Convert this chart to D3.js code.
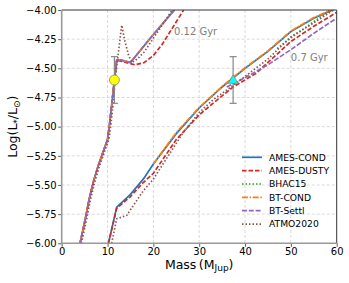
<!DOCTYPE html>
<html>
<head>
<meta charset="utf-8">
<script src="https://cdn.jsdelivr.net/npm/d3@7"></script>
<style>
  body { margin: 0; background: #fff; }
  text { font-family: "DejaVu Sans", sans-serif; }
</style>
</head>
<body>
<script>
var w = 349
var h = 283

// ---- data (mass in MJup, log L/Lsun) ----
var modelNames = ["AMES-COND", "AMES-DUSTY", "BHAC15", "BT-COND", "BT-Settl", "ATMO2020"]

// 0.12 Gyr isochrones
var condMass012 = [4, 5, 6, 7, 8, 9, 10, 10.5, 11, 11.5, 12, 13, 15, 20, 24.6]
var condLum012  = [-6.0, -5.82, -5.62, -5.46, -5.33, -5.22, -5.11, -4.96, -4.78, -4.60, -4.43, -4.43, -4.45, -4.21, -4.0]
var dustyMass012 = [4, 5, 6, 7, 8, 9, 10, 10.5, 11, 11.5, 12, 14, 16, 18, 20, 22, 26.6]
var dustyLum012  = [-6.0, -5.82, -5.62, -5.46, -5.33, -5.22, -5.11, -4.96, -4.78, -4.60, -4.43, -4.45, -4.47, -4.45, -4.39, -4.29, -4.0]
var atmoMass012 = [4.3, 5.3, 6.3, 7.3, 8.3, 9.3, 10.3, 10.8, 11.3, 11.7, 12.2, 13.1, 13.8, 14.6, 15.3, 16.5, 18, 24.1]
var atmoLum012  = [-6.0, -5.82, -5.62, -5.46, -5.33, -5.22, -5.11, -4.96, -4.78, -4.58, -4.42, -4.13, -4.27, -4.39, -4.45, -4.42, -4.36, -4.0]

// 0.7 Gyr isochrones
var condMass07 = [10.2, 12, 15, 17.8, 20, 25, 30, 35, 40, 45, 50, 55, 60]
var condLum07  = [-6.0, -5.69, -5.58, -5.45, -5.32, -5.06, -4.84, -4.66, -4.50, -4.355, -4.185, -4.07, -3.985]
var btcondMass07 = [20, 25, 30, 35, 40, 45, 50, 55, 60]
var btcondLum07  = [-5.32, -5.05, -4.835, -4.655, -4.495, -4.35, -4.18, -4.065, -3.98]
var dustyMass07 = [10.2, 12, 15, 17.5, 20, 25, 30, 33, 37.4, 42.5, 45, 50, 55, 60]
var dustyLum07  = [-6.0, -5.70, -5.60, -5.49, -5.40, -5.11, -4.90, -4.80, -4.66, -4.54, -4.45, -4.27, -4.14, -4.02]
var settlMass07 = [36, 40, 45, 50, 55, 60]
var settlLum07  = [-4.66, -4.58, -4.47, -4.34, -4.20, -4.07]
var bhacMass07 = [47, 50, 55, 58.6]
var bhacLum07  = [-4.33, -4.24, -4.10, -4.0]
var atmoMass07 = [10.9, 12, 14.2, 17.8, 20, 26.5, 30, 33, 38, 45, 50, 55, 59.3]
var atmoLum07  = [-6.0, -5.79, -5.76, -5.55, -5.45, -5.05, -4.88, -4.77, -4.63, -4.42, -4.23, -4.11, -4.0]

// companion estimates
var objMass = [11.5, 37.4]
var objLum = [-4.6, -4.6]
var objErr = [0.2, 0.2]

var xTicks = [0, 10, 20, 30, 40, 50, 60]
var yTicks = [-6.0, -5.75, -5.5, -5.25, -5.0, -4.75, -4.5, -4.25, -4.0]

var colors = {
  "AMES-COND": "#1f77b4", "AMES-DUSTY": "#d62728", "BHAC15": "#2ca02c",
  "BT-COND": "#ff7f0e", "BT-Settl": "#9467bd", "ATMO2020": "#8c564b"
}
var dashes = {
  "AMES-COND": null, "AMES-DUSTY": "4.5,2", "BHAC15": "1.5,2",
  "BT-COND": "6,1.6,1.5,1.6", "BT-Settl": "5,1.8", "ATMO2020": "1.5,2"
}

// curves in draw order
var curves = [
  {model: "AMES-COND", m: condMass012, l: condLum012},
  {model: "AMES-COND", m: condMass07, l: condLum07},
  {model: "AMES-DUSTY", m: dustyMass012, l: dustyLum012},
  {model: "AMES-DUSTY", m: dustyMass07, l: dustyLum07},
  {model: "BHAC15", m: bhacMass07, l: bhacLum07},
  {model: "BT-COND", m: condMass012, l: condLum012},
  {model: "BT-COND", m: btcondMass07, l: btcondLum07},
  {model: "BT-Settl", m: condMass012, l: condLum012},
  {model: "BT-Settl", m: settlMass07, l: settlLum07},
  {model: "ATMO2020", m: atmoMass012, l: atmoLum012},
  {model: "ATMO2020", m: atmoMass07, l: atmoLum07}
]

// plot box (window.top is reserved, so use pl/pr/pt/pb)
var pl = 61.7, pr = 336.7, pt = 10, pb = 243.3

var x = d3.scaleLinear().domain([0, 60]).range([pl, pr])
var y = d3.scaleLinear().domain([-6, -4]).range([pb, pt])

var svg = d3.select("body").append("svg")
            .attr("width", w)
            .attr("height", h)

svg.append("defs").append("clipPath").attr("id", "clip")
   .append("rect")
   .attr("x", pl).attr("y", pt)
   .attr("width", pr - pl).attr("height", pb - pt)

var minus = function(s) { return s.replace("-", "\u2212") }

// grid
svg.append("g").selectAll("line")
   .data(xTicks.slice(1, -1))
   .enter().append("line")
   .attr("x1", function(d) { return x(d) }).attr("x2", function(d) { return x(d) })
   .attr("y1", pt).attr("y2", pb)
   .attr("stroke", "#d0d0d0").attr("stroke-width", 0.8)
   .attr("stroke-dasharray", "3,2")

svg.append("g").selectAll("line")
   .data(yTicks.slice(1, -1))
   .enter().append("line")
   .attr("y1", function(d) { return y(d) }).attr("y2", function(d) { return y(d) })
   .attr("x1", pl).attr("x2", pr)
   .attr("stroke", "#d0d0d0").attr("stroke-width", 0.8)
   .attr("stroke-dasharray", "3,2")

// axes
var xAxis = svg.append("g")
   .attr("transform", "translate(0," + pb + ")")
   .call(d3.axisBottom(x).tickValues(xTicks).tickSize(3.5).tickPadding(1))
var yAxis = svg.append("g")
   .attr("transform", "translate(" + pl + ",0)")
   .call(d3.axisLeft(y).tickValues(yTicks).tickSize(3.5).tickPadding(1.5)
     .tickFormat(function(d) { return minus(d3.format(".2f")(d)) }))

;[xAxis, yAxis].forEach(function(a) {
  a.select(".domain").remove()
  a.selectAll("text").attr("font-size", "10px").attr("fill", "#000")
    .style("font-family", "DejaVu Sans")
  a.selectAll(".tick line").attr("stroke", "#333").attr("stroke-width", 0.8)
})

// curves
var line = d3.line()
  .x(function(d) { return x(d[0]) })
  .y(function(d) { return y(d[1]) })

var plot = svg.append("g").attr("clip-path", "url(#clip)")

plot.selectAll("path.curve")
  .data(curves)
  .enter().append("path")
  .attr("class", "curve")
  .attr("d", function(c) { return line(d3.zip(c.m, c.l)) })
  .attr("fill", "none")
  .attr("stroke", function(c) { return colors[c.model] })
  .attr("stroke-width", 1.7)
  .attr("stroke-dasharray", function(c) { return dashes[c.model] })

// error bars
var eb = svg.append("g")
objMass.forEach(function(m, i) {
  var cx = x(m)
  var y1 = y(objLum[i] + objErr[i]), y2 = y(objLum[i] - objErr[i])
  eb.append("line").attr("x1", cx).attr("x2", cx).attr("y1", y1).attr("y2", y2)
    .attr("stroke", "#888").attr("stroke-width", 1.2)
  ;[y1, y2].forEach(function(yy) {
    eb.append("line").attr("x1", cx - 3.5).attr("x2", cx + 3.5).attr("y1", yy).attr("y2", yy)
      .attr("stroke", "#888").attr("stroke-width", 1.2)
  })
})

svg.append("circle")
  .attr("cx", x(objMass[0])).attr("cy", y(objLum[0])).attr("r", 5)
  .attr("fill", "#ffff00").attr("stroke", "#888").attr("stroke-width", 0.8)

svg.append("path")
  .attr("d", d3.symbol().type(d3.symbolTriangle).size(42)())
  .attr("transform", "translate(" + x(objMass[1]) + "," + (y(objLum[1]) + 0.5) + ")")
  .attr("fill", "#00ffff").attr("stroke", "#888").attr("stroke-width", 0.8)

// spines
svg.append("line").attr("x1", pl).attr("x2", pr).attr("y1", pt).attr("y2", pt)
  .attr("stroke", "#333").attr("stroke-width", 1)
svg.append("line").attr("x1", pr).attr("x2", pr).attr("y1", pt).attr("y2", pb)
  .attr("stroke", "#333").attr("stroke-width", 1)
svg.append("line").attr("x1", pl).attr("x2", pl).attr("y1", pt).attr("y2", pb + 0.5)
  .attr("stroke", "#9a9a9a").attr("stroke-width", 1.6)
svg.append("line").attr("x1", pl - 0.8).attr("x2", pr).attr("y1", pb).attr("y2", pb)
  .attr("stroke", "#9a9a9a").attr("stroke-width", 1.6)

// age labels
svg.append("text").text("0.12 Gyr")
  .attr("x", x(24.5)).attr("y", y(-4.18) + 3.6)
  .attr("font-size", "10px").attr("fill", "#808080")
svg.append("text").text("0.7 Gyr")
  .attr("x", x(50)).attr("y", y(-4.41) + 3.6)
  .attr("font-size", "10px").attr("fill", "#808080")

// legend
var leg = svg.append("g").attr("transform", "translate(242,157.3)")
var rows = leg.selectAll("g").data(modelNames).enter().append("g")
  .attr("transform", function(d, i) { return "translate(0," + (i * 13.35) + ")" })
rows.append("line")
  .attr("x1", 0).attr("x2", 20).attr("y1", 0).attr("y2", 0)
  .attr("stroke", function(d) { return colors[d] })
  .attr("stroke-width", 1.7)
  .attr("stroke-dasharray", function(d) { return dashes[d] })
rows.append("text").text(function(d) { return d })
  .attr("x", 27).attr("y", 3.3)
  .attr("font-size", "9.2px").attr("fill", "#000")

// axis labels
var xl = svg.append("text")
  .attr("x", (pl + pr) / 2).attr("y", 268.5)
  .attr("text-anchor", "middle").attr("font-size", "12.5px")
xl.append("tspan").text("Mass\u2009(M")
xl.append("tspan").text("Jup").attr("font-size", "9px").attr("dy", 2.5)
xl.append("tspan").text(")").attr("dy", -2.5)

var yl = svg.append("text")
  .attr("transform", "translate(17," + ((pt + pb) / 2) + ") rotate(-90)")
  .attr("text-anchor", "middle").attr("font-size", "12.5px")
yl.append("tspan").text("Log(L")
yl.append("tspan").text("*").attr("font-size", "9px").attr("dy", 2.5)
yl.append("tspan").text("/L").attr("dy", -2.5)
yl.append("tspan").text("\u2299").attr("font-size", "9px").attr("dy", 2.5)
yl.append("tspan").text(")").attr("dy", -2.5)
</script>
</body>
</html>
